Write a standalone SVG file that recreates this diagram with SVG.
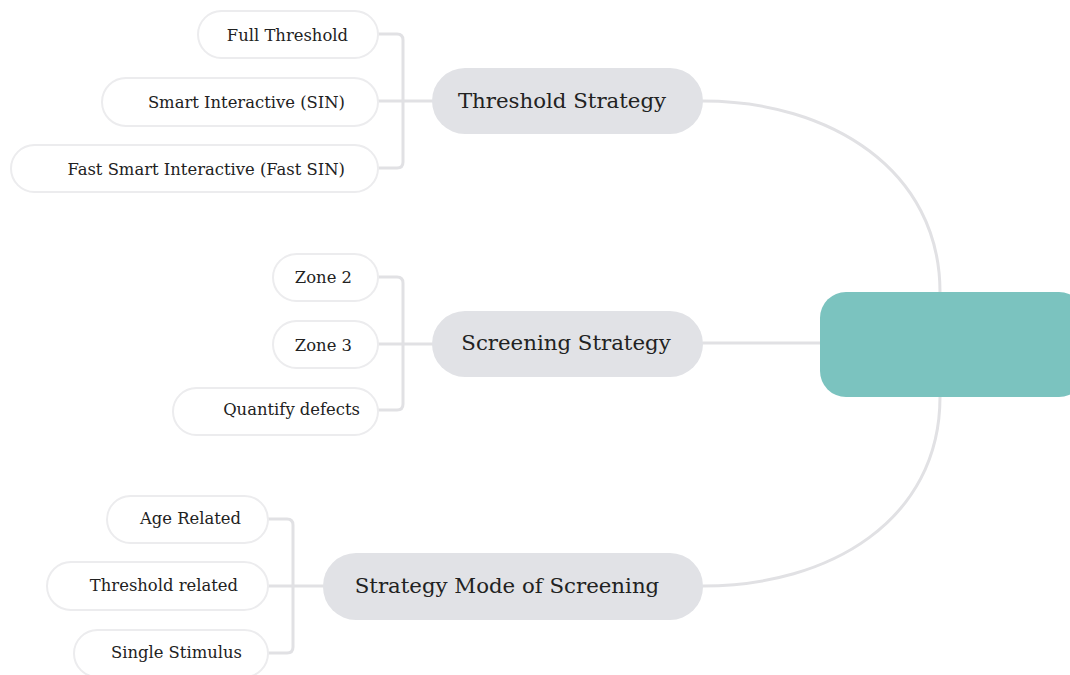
<svg xmlns="http://www.w3.org/2000/svg" width="1070" height="675" viewBox="0 0 1070 675">
<style>
.bg{fill:#ffffff}
.conn{fill:none;stroke:#e1e1e4;stroke-width:3;stroke-linecap:round;stroke-linejoin:round}
.main{fill:#e1e2e6}
.leaf{fill:#ffffff;stroke:#ececee;stroke-width:2}
.center{fill:#7bc3bf}
.t1{font-family:"DejaVu Serif","Liberation Serif",serif;font-size:21.3px;fill:#222;text-anchor:middle}
.t2{font-family:"DejaVu Serif","Liberation Serif",serif;font-size:16.4px;fill:#222;text-anchor:end}
</style>
<rect class="bg" width="1070" height="675"/>
<g id="connectors">
<path class="conn" d="M703,101 C830,101 940,170 940,292"/>
<path class="conn" d="M703,343 L820,343"/>
<path class="conn" d="M703,586 C830,586 940,520 940,397"/>
<path class="conn" d="M378,34 L397,34 Q403,34 403,40 L403,162 Q403,168 397,168 L378,168 M378,101 L432,101"/>
<path class="conn" d="M378,277 L397,277 Q403,277 403,283 L403,404 Q403,410 397,410 L378,410 M378,344 L432,344"/>
<path class="conn" d="M268,519 L287,519 Q293,519 293,525 L293,647 Q293,653 287,653 L268,653 M268,586 L323,586"/>
</g>
<g id="center"><rect class="center" x="820" y="292" width="265" height="105" rx="26"/></g>
<g id="threshold-strategy"><rect class="main" x="432" y="68" width="271" height="66" rx="33"/><text class="t1" x="562" y="108">Threshold Strategy</text></g>
<g id="screening-strategy"><rect class="main" x="432" y="311" width="271" height="66" rx="33"/><text class="t1" x="566" y="350">Screening Strategy</text></g>
<g id="strategy-mode"><rect class="main" x="323" y="553" width="380" height="67" rx="33"/><text class="t1" x="507" y="593">Strategy Mode of Screening</text></g>
<g id="full-threshold"><rect class="leaf" x="198" y="11" width="180" height="47" rx="23.5"/><text class="t2" x="348" y="41">Full Threshold</text></g>
<g id="sin"><rect class="leaf" x="102" y="78" width="276" height="48" rx="24"/><text class="t2" x="345" y="108">Smart Interactive (SIN)</text></g>
<g id="fast-sin"><rect class="leaf" x="11" y="145" width="367" height="47" rx="23.5"/><text class="t2" x="345" y="175">Fast Smart Interactive (Fast SIN)</text></g>
<g id="zone2"><rect class="leaf" x="273" y="254" width="105" height="47" rx="23.5"/><text class="t2" x="352" y="283">Zone 2</text></g>
<g id="zone3"><rect class="leaf" x="273" y="321" width="105" height="47" rx="23.5"/><text class="t2" x="352" y="351">Zone 3</text></g>
<g id="quantify"><rect class="leaf" x="173" y="388" width="205" height="47" rx="23.5"/><text class="t2" x="360" y="415">Quantify defects</text></g>
<g id="age"><rect class="leaf" x="107" y="496" width="161" height="47" rx="23.5"/><text class="t2" x="241" y="524">Age Related</text></g>
<g id="threshold-related"><rect class="leaf" x="47" y="562" width="221" height="48" rx="24"/><text class="t2" x="238" y="591">Threshold related</text></g>
<g id="single"><rect class="leaf" x="74" y="630" width="194" height="47" rx="23.5"/><text class="t2" x="242" y="658">Single Stimulus</text></g>
</svg>
